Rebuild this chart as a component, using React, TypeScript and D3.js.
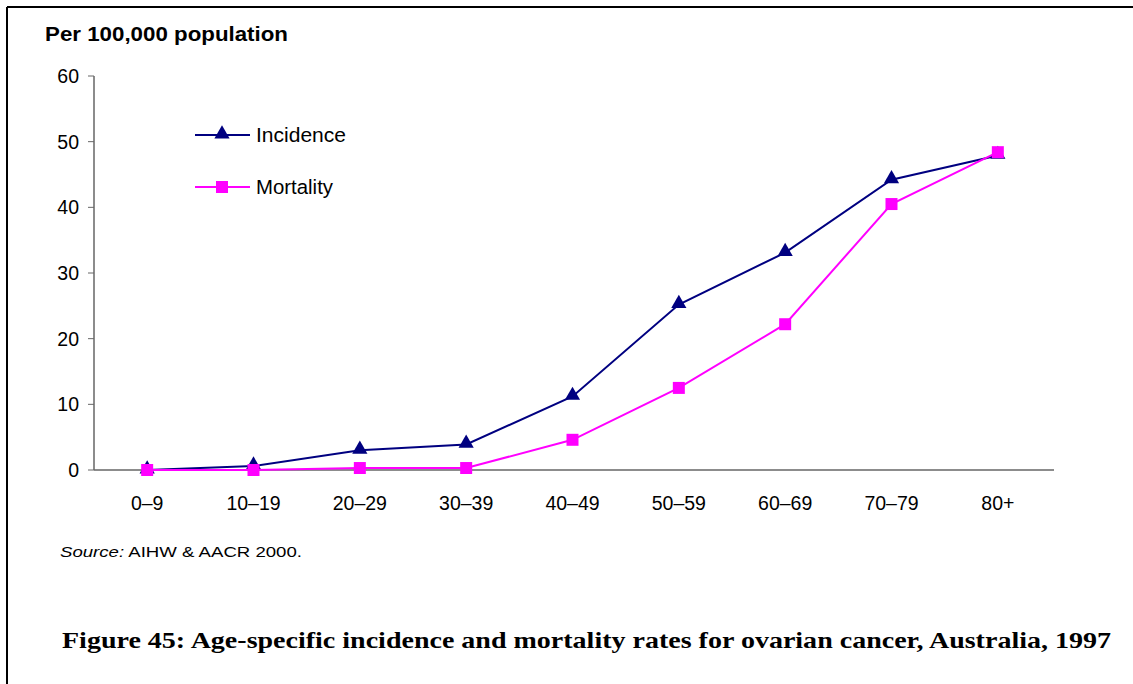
import React from "react";
import * as d3 from "d3";

const categories = ["0–9", "10–19", "20–29", "30–39", "40–49", "50–59", "60–69", "70–79", "80+"];
const incidence = [0, 0.6, 3.0, 3.9, 11.2, 25.2, 33.1, 44.2, 47.9];
const mortality = [0, 0, 0.3, 0.3, 4.6, 12.5, 22.2, 40.5, 48.4];
const yTicks = [0, 10, 20, 30, 40, 50, 60];

const W = 1133;
const H = 684;
const left = 94;
const right = 1051;
const top = 76;
const bottom = 470;

export default function App() {
  const x = d3.scaleBand<string>().domain(categories).range([left, right]);
  const y = d3.scaleLinear().domain([0, 60]).range([bottom, top]);
  const cx = (c: string) => (x(c) as number) + x.bandwidth() / 2;
  const line = d3
    .line<number>()
    .x((_, i) => cx(categories[i]))
    .y((d) => y(d));
  const tri = d3.symbol().type(d3.symbolTriangle).size(100)();
  const sq = d3.symbol().type(d3.symbolSquare).size(144)();
  const navy = "#000080";
  const pink = "#FF00FF";
  const sans = "Arial, 'Liberation Sans', sans-serif";

  return (
    <svg
      width={W}
      height={H}
      style={{ position: "absolute", left: 0, top: 0, background: "#fff" }}
    >
      <rect x={0} y={0} width={W} height={H} fill="#fff" />
      <line x1={7} y1={7} x2={W} y2={7} stroke="#000" strokeWidth={2} />
      <line x1={7} y1={7} x2={7} y2={H} stroke="#000" strokeWidth={2} />

      <text
        x={45}
        y={41}
        fontFamily={sans}
        fontWeight="bold"
        fontSize={19.5}
        fill="#000"
        textLength={243}
        lengthAdjust="spacingAndGlyphs"
      >
        Per 100,000 population
      </text>

      {/* axes */}
      <line x1={left} y1={top} x2={left} y2={bottom} stroke="#666" strokeWidth={1.5} />
      <line x1={left} y1={bottom} x2={right + 3} y2={bottom} stroke="#666" strokeWidth={1.5} />
      {yTicks.map((t) => (
        <g key={t}>
          <line x1={left - 6} y1={y(t)} x2={left} y2={y(t)} stroke="#666" strokeWidth={1} />
          <text
            x={79}
            y={y(t)}
            dy="0.36em"
            textAnchor="end"
            fontFamily={sans}
            fontSize={19.5}
            fill="#000"
          >
            {t}
          </text>
        </g>
      ))}
      {categories.map((c) => (
        <text
          key={c}
          x={cx(c)}
          y={510}
          textAnchor="middle"
          fontFamily={sans}
          fontSize={19.5}
          fill="#000"
        >
          {c}
        </text>
      ))}

      {/* series */}
      <path d={line(incidence) || ""} fill="none" stroke={navy} strokeWidth={2} />
      {incidence.map((v, i) => (
        <path key={"i" + i} d={tri || ""} transform={`translate(${cx(categories[i])},${y(v) - 1})`} fill={navy} />
      ))}
      <path d={line(mortality) || ""} fill="none" stroke={pink} strokeWidth={2} />
      {mortality.map((v, i) => (
        <path key={"m" + i} d={sq || ""} transform={`translate(${cx(categories[i])},${y(v)})`} fill={pink} />
      ))}

      {/* legend */}
      <line x1={195} y1={135} x2={250} y2={135} stroke={navy} strokeWidth={2} />
      <path d={tri || ""} transform="translate(222,134)" fill={navy} />
      <text x={256} y={142} fontFamily={sans} fontSize={20.5} fill="#000" textLength={90} lengthAdjust="spacingAndGlyphs">
        Incidence
      </text>
      <line x1={195} y1={187} x2={250} y2={187} stroke={pink} strokeWidth={2} />
      <path d={sq || ""} transform="translate(222,187)" fill={pink} />
      <text x={256} y={194} fontFamily={sans} fontSize={20.5} fill="#000" textLength={77} lengthAdjust="spacingAndGlyphs">
        Mortality
      </text>

      {/* source */}
      <text
        x={60}
        y={557}
        fontFamily={sans}
        fontSize={15}
        fill="#000"
        textLength={242}
        lengthAdjust="spacingAndGlyphs"
      >
        <tspan fontStyle="italic">Source:</tspan> AIHW &amp; AACR 2000.
      </text>

      <text
        x={62}
        y={648}
        fontFamily="'Liberation Serif', 'Times New Roman', serif"
        fontWeight="bold"
        fontSize={24}
        fill="#000"
        textLength={1049}
        lengthAdjust="spacingAndGlyphs"
      >
        Figure 45: Age-specific incidence and mortality rates for ovarian cancer, Australia, 1997
      </text>
    </svg>
  );
}
